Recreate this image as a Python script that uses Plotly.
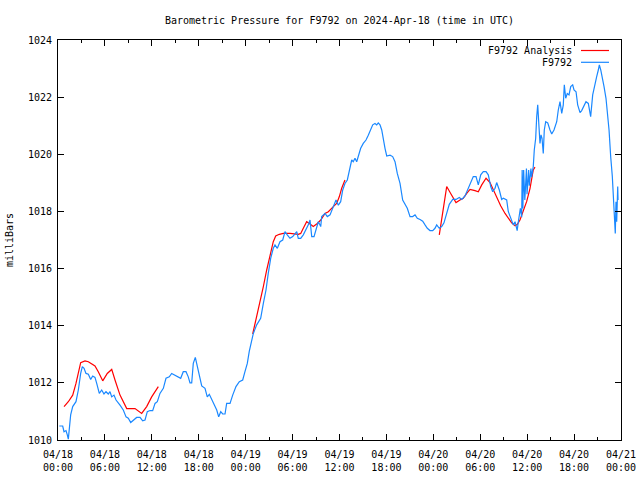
import pandas as pd
import plotly.graph_objects as go

# ---------------- data ----------------
START = "2024-04-18 00:00"

# F9792 station observations: hours after START, pressure (mbar)
obs_hours = [
    0.17, 0.60, 0.77, 1.02, 1.19, 1.32, 1.62, 1.88, 2.30, 2.60, 2.90, 3.11, 3.33, 3.58, 3.88,
    4.18, 4.44, 4.73, 4.95, 5.28, 5.59, 5.88, 6.14, 6.43, 6.65, 6.87, 7.16, 7.42, 7.93, 8.35,
    8.70, 8.99, 9.30, 9.63, 10.06, 10.49, 10.83, 11.13, 11.42, 11.77, 12.11, 12.41, 12.70, 13.04,
    13.47, 13.81, 14.23, 14.54, 14.96, 15.38, 15.69, 16.02, 16.37, 16.66, 16.88, 17.10, 17.30,
    17.56, 17.81, 18.07, 18.38, 18.80, 19.09, 19.35, 19.66, 19.95, 20.30, 20.55, 20.81, 21.06,
    21.36, 21.57, 22.00, 22.34, 22.76, 23.19, 23.62, 23.91, 24.21, 24.46, 24.77, 24.98, 25.41,
    25.92, 26.26, 26.60, 26.89, 27.20, 27.53, 27.75, 28.05, 28.39, 28.74, 29.03, 29.32, 29.67,
    30.02, 30.31, 30.53, 30.73, 31.04, 31.37, 31.72, 32.01, 32.23, 32.45, 32.74, 33.00, 33.29,
    33.60, 33.72, 34.15, 34.44, 34.79, 35.13, 35.55, 35.85, 36.15, 36.41, 36.70, 37.00, 37.25,
    37.56, 37.76, 37.98, 38.20, 38.40, 38.71, 39.04, 39.39, 39.68, 39.99, 40.25, 40.54, 40.76,
    40.96, 41.18, 41.40, 41.60, 41.82, 42.04, 42.46, 42.80, 43.10, 43.39, 43.74, 44.08, 44.38,
    44.67, 45.02, 45.36, 45.66, 45.95, 46.30, 46.64, 46.94, 47.23, 47.57, 47.92, 48.21, 48.43,
    48.76, 49.07, 49.36, 49.71, 50.04, 50.48, 50.90, 51.32, 51.63, 52.05, 52.48, 52.78, 53.11,
    53.46, 53.75, 54.06, 54.39, 54.74, 55.03, 55.34, 55.59, 55.89, 56.10, 56.44, 56.74, 56.95,
    57.38, 57.59, 58.02, 58.23, 58.45, 58.58, 58.72, 58.87, 59.00, 59.13, 59.30, 59.36, 59.45,
    59.55, 59.70, 59.91, 59.98, 60.19, 60.27, 60.48, 60.56, 60.78, 60.91, 61.09, 61.22, 61.35,
    61.51, 61.64, 61.77, 61.90, 62.06, 62.19, 62.37, 62.63, 62.92, 63.14, 63.43, 63.78, 63.98,
    64.20, 64.42, 64.62, 64.75, 64.93, 65.13, 65.35, 65.57, 65.82, 65.99, 66.25, 66.46, 66.76,
    66.97, 67.27, 67.52, 67.82, 67.95, 68.12, 68.38, 68.68, 68.89, 69.10, 69.23, 69.41, 69.61,
    69.83, 70.08, 70.25, 70.47, 70.68, 70.89, 71.07, 71.20, 71.27, 71.36, 71.45, 71.58, 71.62,
]
obs_pressure = [
    1010.49, 1010.49, 1010.29, 1010.33, 1010.18, 1010.03, 1010.88, 1011.17, 1011.34, 1011.75,
    1012.33, 1012.57, 1012.51, 1012.33, 1012.30, 1012.12, 1012.24, 1012.19, 1011.98, 1011.63,
    1011.75, 1011.61, 1011.69, 1011.61, 1011.69, 1011.51, 1011.57, 1011.40, 1011.22, 1011.05,
    1010.81, 1010.76, 1010.61, 1010.70, 1010.79, 1010.79, 1010.67, 1010.70, 1010.99, 1011.03,
    1011.03, 1011.28, 1011.34, 1011.63, 1011.81, 1012.16, 1012.21, 1012.33, 1012.27, 1012.21,
    1012.16, 1012.39, 1012.39, 1012.21, 1012.00, 1012.00, 1012.68, 1012.89, 1012.57, 1012.33,
    1011.89, 1011.81, 1011.51, 1011.60, 1011.40, 1011.22, 1011.05, 1010.81, 1010.99, 1010.91,
    1010.91, 1011.28, 1011.28, 1011.57, 1011.87, 1012.04, 1012.10, 1012.39, 1012.68, 1013.10,
    1013.45, 1013.73, 1014.03, 1014.26, 1014.78, 1015.25, 1015.83, 1016.36, 1016.71, 1016.83,
    1016.71, 1016.94, 1017.00, 1017.29, 1017.18, 1017.06, 1017.12, 1017.23, 1017.29, 1017.06,
    1017.06, 1017.18, 1017.35, 1017.53, 1017.70, 1017.12, 1017.12, 1017.35, 1017.64, 1017.47,
    1017.82, 1017.93, 1017.82, 1017.88, 1018.11, 1018.40, 1018.22, 1018.34, 1018.75, 1018.98,
    1019.10, 1019.39, 1019.80, 1019.74, 1019.86, 1019.74, 1019.92, 1020.21, 1020.38, 1020.50,
    1020.67, 1020.85, 1021.03, 1021.08, 1021.03, 1021.10, 1021.03, 1020.85, 1020.50, 1020.21,
    1019.94, 1019.97, 1019.92, 1019.74, 1019.33, 1018.98, 1018.40, 1018.22, 1018.11, 1017.82,
    1017.82, 1017.88, 1017.76, 1017.72, 1017.66, 1017.53, 1017.41, 1017.33, 1017.33, 1017.41,
    1017.53, 1017.41, 1017.47, 1017.60, 1017.93, 1018.25, 1018.42, 1018.42, 1018.49, 1018.42,
    1018.54, 1018.81, 1018.98, 1019.22, 1019.22, 1018.93, 1019.28, 1019.39, 1019.39, 1019.28,
    1018.87, 1018.69, 1018.81, 1019.01, 1018.75, 1018.42, 1018.46, 1018.40, 1017.99, 1017.70,
    1017.53, 1017.64, 1017.47, 1017.33, 1017.64, 1017.82, 1018.11, 1017.80, 1019.45, 1018.10,
    1019.45, 1018.40, 1019.50, 1018.60, 1019.45, 1018.90, 1019.50, 1019.20, 1019.57, 1020.15,
    1020.56, 1021.32, 1021.73, 1020.97, 1020.38, 1020.68, 1020.56, 1020.03, 1020.85, 1021.14,
    1021.10, 1020.85, 1020.71, 1020.85, 1021.14, 1021.55, 1021.84, 1021.43, 1021.73, 1022.43,
    1021.96, 1022.13, 1022.08, 1022.37, 1022.43, 1022.25, 1022.19, 1021.73, 1021.46, 1021.53,
    1021.73, 1021.84, 1021.78, 1021.49, 1021.32, 1022.08, 1022.54, 1022.72, 1022.95, 1023.13,
    1022.95, 1022.72, 1022.37, 1021.96, 1021.55, 1020.85, 1019.92, 1019.22, 1018.28, 1017.58,
    1017.23, 1018.34, 1017.64, 1018.87, 1018.40,
]

# F9792 Analysis: three separate runs (None marks a break between runs)
ana_hours = [
    0.77, 1.32, 1.88, 2.30, 2.90, 3.45, 3.88, 4.31, 4.73, 5.15, 5.72, 6.30, 6.87, 7.29, 7.93,
    8.79, 9.85, 10.70, 11.34, 11.98, 12.83,
    None,
    24.90, 25.32, 25.74, 26.26, 26.69, 27.11, 27.53, 27.84, 28.30, 28.81, 29.67, 30.73, 31.04,
    31.37, 31.80, 32.23, 32.65, 33.16, 33.60, 34.15, 34.57, 35.21, 35.64, 35.98, 36.28, 36.70,
    None,
    48.76, 49.20, 49.71, 50.22, 50.90, 51.41, 51.83, 52.27, 52.69, 53.33, 53.75, 54.19, 54.74,
    55.25, 55.67, 56.10, 56.61, 57.17, 57.59, 58.02, 58.45, 58.74, 59.08, 59.51, 59.94, 60.36,
    60.78, 61.00,
]
ana_pressure = [
    1011.17, 1011.34, 1011.57, 1011.98, 1012.71, 1012.77, 1012.74, 1012.66, 1012.59, 1012.39,
    1012.07, 1012.33, 1012.47, 1012.10, 1011.57, 1011.10, 1011.10, 1010.93, 1011.17, 1011.51,
    1011.87,
    None,
    1013.71, 1014.20, 1014.67, 1015.37, 1015.95, 1016.42, 1016.94, 1017.14, 1017.20, 1017.23,
    1017.23, 1017.20, 1017.23, 1017.41, 1017.64, 1017.56, 1017.47, 1017.58, 1017.70, 1017.93,
    1017.99, 1018.17, 1018.28, 1018.52, 1018.81, 1019.10,
    None,
    1017.18, 1018.05, 1018.87, 1018.63, 1018.31, 1018.40, 1018.46, 1018.63, 1018.77, 1018.73,
    1018.69, 1018.93, 1019.16, 1019.01, 1018.75, 1018.52, 1018.20, 1017.93, 1017.76, 1017.60,
    1017.50, 1017.55, 1017.70, 1018.00, 1018.35, 1018.80, 1019.45, 1019.55,
]

tick_hours = [0, 6, 12, 18, 24, 30, 36, 42, 48, 54, 60, 66, 72]
tick_labels = [
    "04/18<br>00:00", "04/18<br>06:00", "04/18<br>12:00", "04/18<br>18:00",
    "04/19<br>00:00", "04/19<br>06:00", "04/19<br>12:00", "04/19<br>18:00",
    "04/20<br>00:00", "04/20<br>06:00", "04/20<br>12:00", "04/20<br>18:00",
    "04/21<br>00:00",
]
y_ticks = [1010, 1012, 1014, 1016, 1018, 1020, 1022, 1024]

series_names = ["F9792 Analysis", "F9792"]
series_colors = ["#ff0000", "#1a88ff"]

# ---------------- build ----------------
base = pd.Timestamp(START)


def to_time(hours):
    return [None if h is None else base + pd.Timedelta(hours=h) for h in hours]


FONT = "DejaVu Sans Mono"

fig = go.Figure()
fig.add_trace(go.Scatter(x=to_time(ana_hours), y=ana_pressure, mode="lines",
                         name=series_names[0], connectgaps=False,
                         line=dict(color=series_colors[0], width=1.2)))
fig.add_trace(go.Scatter(x=to_time(obs_hours), y=obs_pressure, mode="lines",
                         name=series_names[1],
                         line=dict(color=series_colors[1], width=1.2)))

# gnuplot-style legend: right-aligned text followed by a line sample
L, R, T, B = 58, 19, 40, 40
W, H = 640 - L - R, 480 - T - B


def px(x, y):
    return (x - L) / W, 1 - (y - T) / H


for i, (name, col) in enumerate(zip(series_names, series_colors)):
    ypx = 50.5 + 11.8 * i
    tx, ty = px(574, ypx)
    fig.add_annotation(text=name, xref="paper", yref="paper", x=tx, y=ty,
                       xanchor="right", yanchor="middle", showarrow=False,
                       font=dict(family=FONT, size=10, color="black"))
    x0, _ = px(581, ypx)
    x1, _ = px(609, ypx)
    fig.add_shape(type="line", xref="paper", yref="paper", x0=x0, x1=x1, y0=ty, y1=ty,
                  line=dict(color=col, width=1.2))

fig.update_layout(
    width=640, height=480,
    margin=dict(l=L, r=R, t=T, b=B, autoexpand=False),
    paper_bgcolor="white", plot_bgcolor="white",
    showlegend=False,
    font=dict(family=FONT, size=10, color="black"),
    title=dict(text="Barometric Pressure for F9792 on 2024-Apr-18 (time in UTC)",
               x=0.5, xref="paper", xanchor="center",
               y=1 - 20 / 480, yref="container", yanchor="middle",
               font=dict(family=FONT, size=10, color="black")),
)
fig.update_xaxes(
    range=[base, base + pd.Timedelta(hours=72)],
    tickmode="array",
    tickvals=to_time(tick_hours), ticktext=tick_labels,
    ticks="inside", ticklen=6, tickcolor="black",
    ticklabelstandoff=5,
    minor=dict(ticks="inside", ticklen=3, tickcolor="black",
               tick0=base, dtick=3 * 3600 * 1000),
    showline=True, linecolor="black", linewidth=1, mirror="ticks",
    showgrid=False, zeroline=False,
    tickfont=dict(family=FONT, size=10, color="black"),
)
fig.update_yaxes(
    range=[1010, 1024],
    tickmode="array", tickvals=y_ticks,
    ticks="inside", ticklen=6, tickcolor="black",
    ticklabelstandoff=3,
    showline=True, linecolor="black", linewidth=1, mirror="ticks",
    showgrid=False, zeroline=False,
    tickfont=dict(family=FONT, size=10, color="black"),
    title=dict(text="milliBars", standoff=12, font=dict(family=FONT, size=10, color="black")),
)

fig.write_html("out.html", config={"displayModeBar": False},
               post_script="document.body.style.margin='0px';")
